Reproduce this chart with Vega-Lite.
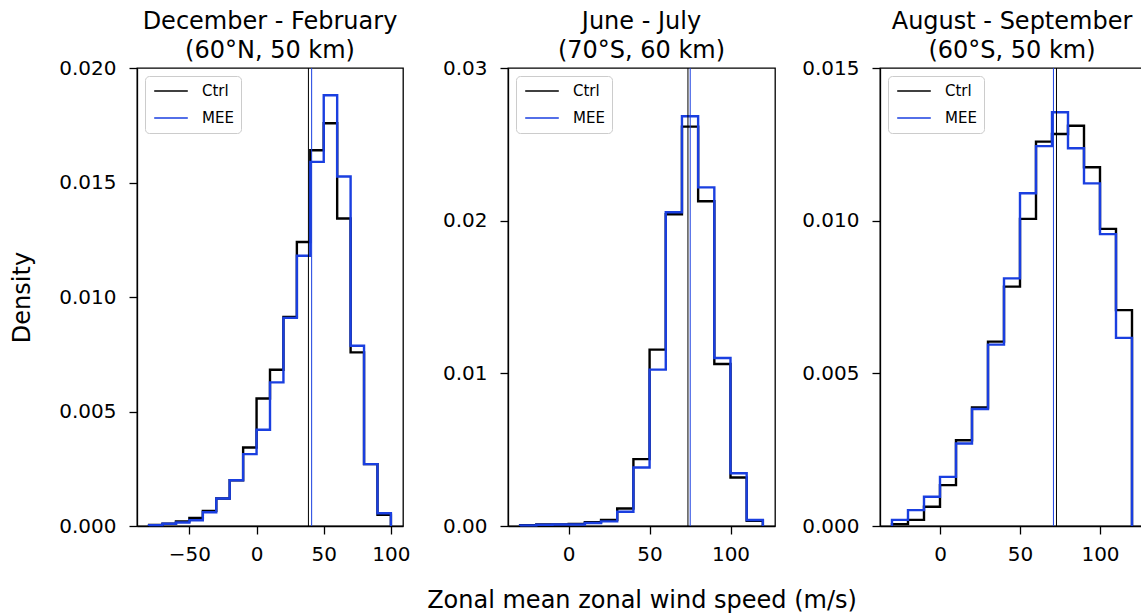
{
  "$schema": "https://vega.github.io/schema/vega-lite/v6.json",
  "padding": {"left": 10, "top": 9, "right": 0, "bottom": 0},
  "background": "white",
  "config": {
    "font": "DejaVu Sans",
    "view": {"stroke": "black", "strokeWidth": 1.3},
    "axis": {"grid": false, "domainColor": "black", "domainWidth": 1.3, "tickColor": "black", "tickWidth": 1.3, "tickSize": 8, "labelFontSize": 20, "labelColor": "black", "labelPadding": 10, "titleFontSize": 24, "titleFontWeight": "normal", "titleColor": "black"},
    "title": {"fontSize": 24, "fontWeight": "normal", "color": "black", "lineHeight": 29, "offset": -5},
    "legend": {"orient": "top-left", "offset": 8, "title": null, "symbolType": "M-2.4,0H2.4", "symbolSize": 196, "symbolStrokeWidth": 1.3, "symbolOffset": 11, "labelOffset": 23, "labelFontSize": 15, "labelColor": "black", "fillColor": "white", "strokeColor": "#cccccc", "cornerRadius": 4, "padding": 7, "rowPadding": 11}
  },
  "datasets": {
    "hist": [
      {"panel":"DJF","series":"Ctrl","edge":-80,"density":0},
      {"panel":"DJF","series":"Ctrl","edge":-80,"density":0.00005},
      {"panel":"DJF","series":"Ctrl","edge":-70,"density":0.0001},
      {"panel":"DJF","series":"Ctrl","edge":-60,"density":0.0002},
      {"panel":"DJF","series":"Ctrl","edge":-50,"density":0.00035},
      {"panel":"DJF","series":"Ctrl","edge":-40,"density":0.00066},
      {"panel":"DJF","series":"Ctrl","edge":-30,"density":0.0012},
      {"panel":"DJF","series":"Ctrl","edge":-20,"density":0.002},
      {"panel":"DJF","series":"Ctrl","edge":-10,"density":0.00343},
      {"panel":"DJF","series":"Ctrl","edge":0,"density":0.00557},
      {"panel":"DJF","series":"Ctrl","edge":10,"density":0.00682},
      {"panel":"DJF","series":"Ctrl","edge":20,"density":0.00913},
      {"panel":"DJF","series":"Ctrl","edge":30,"density":0.0124},
      {"panel":"DJF","series":"Ctrl","edge":40,"density":0.01641},
      {"panel":"DJF","series":"Ctrl","edge":50,"density":0.01759},
      {"panel":"DJF","series":"Ctrl","edge":60,"density":0.01343},
      {"panel":"DJF","series":"Ctrl","edge":70,"density":0.00758},
      {"panel":"DJF","series":"Ctrl","edge":80,"density":0.0027},
      {"panel":"DJF","series":"Ctrl","edge":90,"density":0.00049},
      {"panel":"DJF","series":"Ctrl","edge":100,"density":0},
      {"panel":"DJF","series":"MEE","edge":-80,"density":0},
      {"panel":"DJF","series":"MEE","edge":-80,"density":0.00004},
      {"panel":"DJF","series":"MEE","edge":-70,"density":0.0001},
      {"panel":"DJF","series":"MEE","edge":-60,"density":0.00015},
      {"panel":"DJF","series":"MEE","edge":-50,"density":0.00025},
      {"panel":"DJF","series":"MEE","edge":-40,"density":0.0006},
      {"panel":"DJF","series":"MEE","edge":-30,"density":0.0012},
      {"panel":"DJF","series":"MEE","edge":-20,"density":0.002},
      {"panel":"DJF","series":"MEE","edge":-10,"density":0.00314},
      {"panel":"DJF","series":"MEE","edge":0,"density":0.0042},
      {"panel":"DJF","series":"MEE","edge":10,"density":0.00627},
      {"panel":"DJF","series":"MEE","edge":20,"density":0.00909},
      {"panel":"DJF","series":"MEE","edge":30,"density":0.0118},
      {"panel":"DJF","series":"MEE","edge":40,"density":0.0159},
      {"panel":"DJF","series":"MEE","edge":50,"density":0.01881},
      {"panel":"DJF","series":"MEE","edge":60,"density":0.01526},
      {"panel":"DJF","series":"MEE","edge":70,"density":0.00787},
      {"panel":"DJF","series":"MEE","edge":80,"density":0.0027},
      {"panel":"DJF","series":"MEE","edge":90,"density":0.00056},
      {"panel":"DJF","series":"MEE","edge":100,"density":0},

      {"panel":"JJ","series":"Ctrl","edge":-30,"density":0},
      {"panel":"JJ","series":"Ctrl","edge":-30,"density":0.00005},
      {"panel":"JJ","series":"Ctrl","edge":-20,"density":0.0001},
      {"panel":"JJ","series":"Ctrl","edge":-10,"density":0.0001},
      {"panel":"JJ","series":"Ctrl","edge":0,"density":0.00013},
      {"panel":"JJ","series":"Ctrl","edge":10,"density":0.00025},
      {"panel":"JJ","series":"Ctrl","edge":20,"density":0.0004},
      {"panel":"JJ","series":"Ctrl","edge":30,"density":0.00115},
      {"panel":"JJ","series":"Ctrl","edge":40,"density":0.00438},
      {"panel":"JJ","series":"Ctrl","edge":50,"density":0.01155},
      {"panel":"JJ","series":"Ctrl","edge":60,"density":0.02042},
      {"panel":"JJ","series":"Ctrl","edge":70,"density":0.02616},
      {"panel":"JJ","series":"Ctrl","edge":80,"density":0.02127},
      {"panel":"JJ","series":"Ctrl","edge":90,"density":0.01061},
      {"panel":"JJ","series":"Ctrl","edge":100,"density":0.00318},
      {"panel":"JJ","series":"Ctrl","edge":110,"density":0.00034},
      {"panel":"JJ","series":"Ctrl","edge":120,"density":0},
      {"panel":"JJ","series":"MEE","edge":-30,"density":0},
      {"panel":"JJ","series":"MEE","edge":-30,"density":0.00004},
      {"panel":"JJ","series":"MEE","edge":-20,"density":0.00008},
      {"panel":"JJ","series":"MEE","edge":-10,"density":0.0001},
      {"panel":"JJ","series":"MEE","edge":0,"density":0.0001},
      {"panel":"JJ","series":"MEE","edge":10,"density":0.0002},
      {"panel":"JJ","series":"MEE","edge":20,"density":0.0003},
      {"panel":"JJ","series":"MEE","edge":30,"density":0.00093},
      {"panel":"JJ","series":"MEE","edge":40,"density":0.00383},
      {"panel":"JJ","series":"MEE","edge":50,"density":0.01024},
      {"panel":"JJ","series":"MEE","edge":60,"density":0.02055},
      {"panel":"JJ","series":"MEE","edge":70,"density":0.02684},
      {"panel":"JJ","series":"MEE","edge":80,"density":0.02218},
      {"panel":"JJ","series":"MEE","edge":90,"density":0.011},
      {"panel":"JJ","series":"MEE","edge":100,"density":0.00346},
      {"panel":"JJ","series":"MEE","edge":110,"density":0.00039},
      {"panel":"JJ","series":"MEE","edge":120,"density":0},

      {"panel":"AS","series":"Ctrl","edge":-30,"density":0},
      {"panel":"AS","series":"Ctrl","edge":-30,"density":0.00006},
      {"panel":"AS","series":"Ctrl","edge":-20,"density":0.0002},
      {"panel":"AS","series":"Ctrl","edge":-10,"density":0.00063},
      {"panel":"AS","series":"Ctrl","edge":0,"density":0.00134},
      {"panel":"AS","series":"Ctrl","edge":10,"density":0.00281},
      {"panel":"AS","series":"Ctrl","edge":20,"density":0.00388},
      {"panel":"AS","series":"Ctrl","edge":30,"density":0.00604},
      {"panel":"AS","series":"Ctrl","edge":40,"density":0.00784},
      {"panel":"AS","series":"Ctrl","edge":50,"density":0.01006},
      {"panel":"AS","series":"Ctrl","edge":60,"density":0.01259},
      {"panel":"AS","series":"Ctrl","edge":70,"density":0.01284},
      {"panel":"AS","series":"Ctrl","edge":80,"density":0.01311},
      {"panel":"AS","series":"Ctrl","edge":90,"density":0.01175},
      {"panel":"AS","series":"Ctrl","edge":100,"density":0.00973},
      {"panel":"AS","series":"Ctrl","edge":110,"density":0.00707},
      {"panel":"AS","series":"Ctrl","edge":120,"density":0},
      {"panel":"AS","series":"MEE","edge":-30,"density":0},
      {"panel":"AS","series":"MEE","edge":-30,"density":0.0002},
      {"panel":"AS","series":"MEE","edge":-20,"density":0.00052},
      {"panel":"AS","series":"MEE","edge":-10,"density":0.00096},
      {"panel":"AS","series":"MEE","edge":0,"density":0.00161},
      {"panel":"AS","series":"MEE","edge":10,"density":0.0027},
      {"panel":"AS","series":"MEE","edge":20,"density":0.00383},
      {"panel":"AS","series":"MEE","edge":30,"density":0.00594},
      {"panel":"AS","series":"MEE","edge":40,"density":0.00811},
      {"panel":"AS","series":"MEE","edge":50,"density":0.0109},
      {"panel":"AS","series":"MEE","edge":60,"density":0.01244},
      {"panel":"AS","series":"MEE","edge":70,"density":0.01355},
      {"panel":"AS","series":"MEE","edge":80,"density":0.01237},
      {"panel":"AS","series":"MEE","edge":90,"density":0.01122},
      {"panel":"AS","series":"MEE","edge":100,"density":0.00956},
      {"panel":"AS","series":"MEE","edge":110,"density":0.00616},
      {"panel":"AS","series":"MEE","edge":120,"density":0}
    ],
    "means": [
      {"panel":"DJF","series":"Ctrl","mean":38.6},
      {"panel":"DJF","series":"MEE","mean":41.0},
      {"panel":"JJ","series":"Ctrl","mean":73.7},
      {"panel":"JJ","series":"MEE","mean":75.1},
      {"panel":"AS","series":"Ctrl","mean":72.8},
      {"panel":"AS","series":"MEE","mean":70.9}
    ]
  },
  "bounds": "flush",
  "spacing": 105,
  "resolve": {"scale": {"x": "independent", "y": "independent", "color": "independent"}, "legend": {"color": "independent"}},
  "hconcat": [
    {
      "width": 266, "height": 458,
      "title": {"text": ["December - February", "(60°N, 50 km)"]},
      "layer": [
        {
          "data": {"name": "hist"},
          "transform": [{"filter": "datum.panel === 'DJF'"}],
          "mark": {"type": "line", "interpolate": "step-after", "strokeWidth": 2.4},
          "encoding": {
            "x": {"field": "edge", "type": "quantitative", "scale": {"domain": [-89, 109], "nice": false, "zero": false}, "axis": {"values": [-50, 0, 50, 100], "title": null}},
            "y": {"field": "density", "type": "quantitative", "scale": {"domain": [0, 0.02], "nice": false}, "axis": {"values": [0, 0.005, 0.01, 0.015, 0.02], "format": ".3f", "title": "Density", "titlePadding": 24, "labelPadding": 13}},
            "color": {"field": "series", "type": "nominal", "scale": {"domain": ["Ctrl", "MEE"], "range": ["#000000", "#1a3fe0"]}}
          }
        },
        {
          "data": {"name": "means"},
          "transform": [{"filter": "datum.panel === 'DJF'"}],
          "mark": {"type": "rule", "strokeWidth": 1},
          "encoding": {
            "x": {"field": "mean", "type": "quantitative"},
            "color": {"field": "series", "type": "nominal"}
          }
        }
      ]
    },
    {
      "width": 267, "height": 458,
      "title": {"text": ["June - July", "(70°S, 60 km)"]},
      "layer": [
        {
          "data": {"name": "hist"},
          "transform": [{"filter": "datum.panel === 'JJ'"}],
          "mark": {"type": "line", "interpolate": "step-after", "strokeWidth": 2.4},
          "encoding": {
            "x": {"field": "edge", "type": "quantitative", "scale": {"domain": [-37.5, 127.5], "nice": false, "zero": false}, "axis": {"values": [0, 50, 100], "title": "Zonal mean zonal wind speed (m/s)", "titlePadding": 24}},
            "y": {"field": "density", "type": "quantitative", "scale": {"domain": [0, 0.03], "nice": false}, "axis": {"values": [0, 0.01, 0.02, 0.03], "format": ".2f", "title": null, "labelPadding": 13}},
            "color": {"field": "series", "type": "nominal", "scale": {"domain": ["Ctrl", "MEE"], "range": ["#000000", "#1a3fe0"]}}
          }
        },
        {
          "data": {"name": "means"},
          "transform": [{"filter": "datum.panel === 'JJ'"}],
          "mark": {"type": "rule", "strokeWidth": 1},
          "encoding": {
            "x": {"field": "mean", "type": "quantitative"},
            "color": {"field": "series", "type": "nominal"}
          }
        }
      ]
    },
    {
      "width": 264, "height": 458,
      "title": {"text": ["August - September", "(60°S, 50 km)"]},
      "layer": [
        {
          "data": {"name": "hist"},
          "transform": [{"filter": "datum.panel === 'AS'"}],
          "mark": {"type": "line", "interpolate": "step-after", "strokeWidth": 2.4},
          "encoding": {
            "x": {"field": "edge", "type": "quantitative", "scale": {"domain": [-37.5, 127.5], "nice": false, "zero": false}, "axis": {"values": [0, 50, 100], "title": null}},
            "y": {"field": "density", "type": "quantitative", "scale": {"domain": [0, 0.015], "nice": false}, "axis": {"values": [0, 0.005, 0.01, 0.015], "format": ".3f", "title": null, "labelPadding": 13}},
            "color": {"field": "series", "type": "nominal", "scale": {"domain": ["Ctrl", "MEE"], "range": ["#000000", "#1a3fe0"]}}
          }
        },
        {
          "data": {"name": "means"},
          "transform": [{"filter": "datum.panel === 'AS'"}],
          "mark": {"type": "rule", "strokeWidth": 1},
          "encoding": {
            "x": {"field": "mean", "type": "quantitative"},
            "color": {"field": "series", "type": "nominal"}
          }
        }
      ]
    }
  ]
}
